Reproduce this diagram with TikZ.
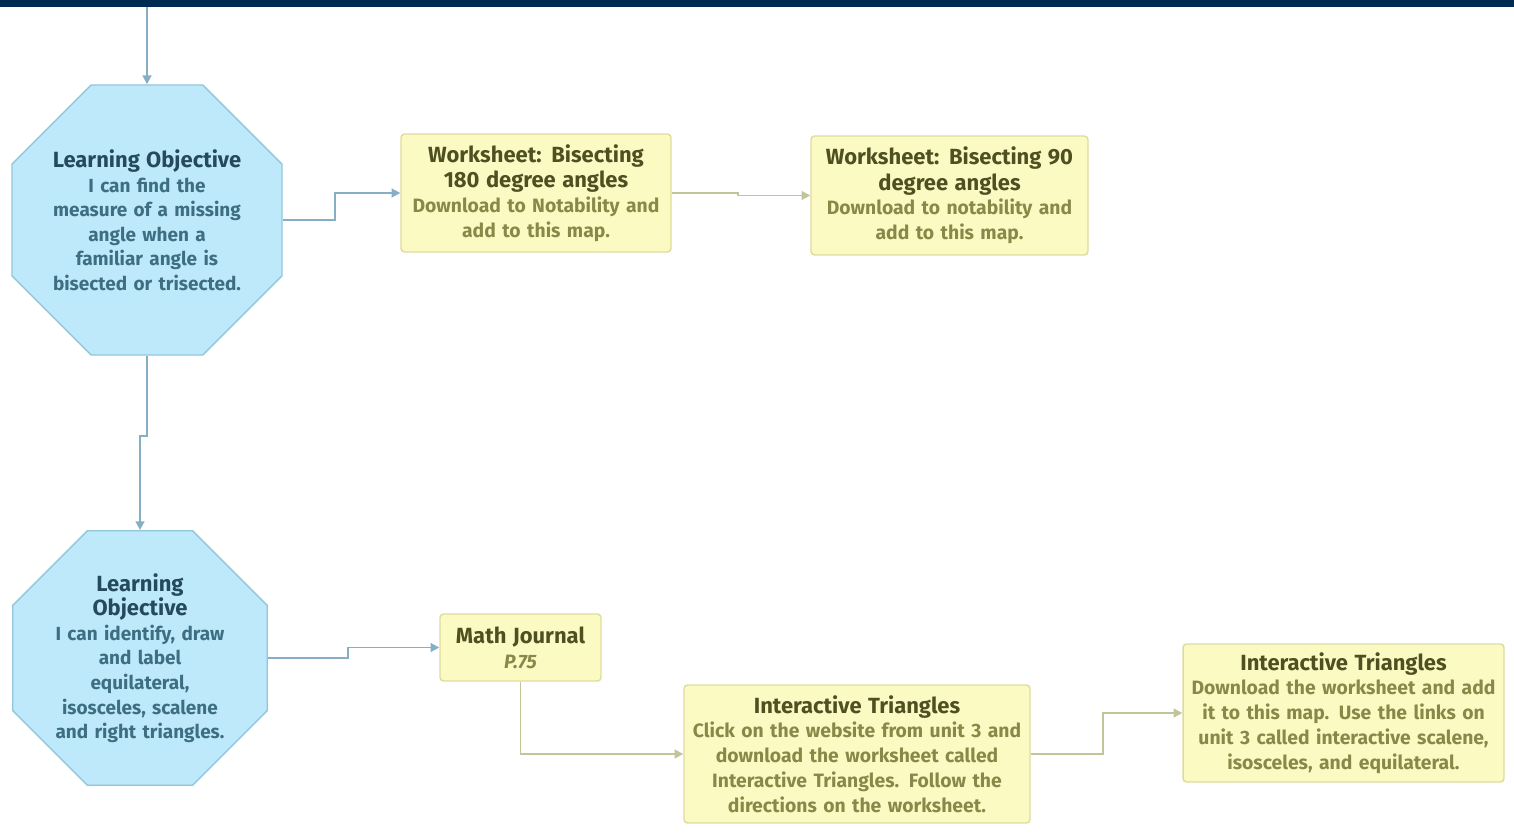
\documentclass[tikz,border=0pt]{standalone}
\usepackage{fontspec}
\setmainfont{Fira Sans}
\usetikzlibrary{arrows.meta,shapes.geometric,calc,positioning}
\definecolor{navybar}{HTML}{002A52}
\definecolor{skyfill}{HTML}{BDE9FA}
\definecolor{skyedge}{HTML}{92C6DA}
\definecolor{skyline}{HTML}{86AFC6}
\definecolor{skytitle}{HTML}{254A5C}
\definecolor{skytext}{HTML}{3E6E82}
\definecolor{lemonfill}{HTML}{FCFAC3}
\definecolor{lemonedge}{HTML}{DEDC9C}
\definecolor{oliveline}{HTML}{C4C49A}
\definecolor{olivetitle}{HTML}{4E5022}
\definecolor{olivetext}{HTML}{888848}
\def\skyT{\fontsize{12.5}{14}\selectfont\color{skytitle}}
\def\skyB{\fontsize{10.8}{14}\selectfont\color{skytext}}
\def\oliT{\fontsize{12.5}{14.5}\selectfont\color{olivetitle}}
\def\oliB{\fontsize{11}{14}\selectfont\color{olivetext}}
\tikzstyle{octa} = [regular polygon, regular polygon sides=8, fill=skyfill, draw=skyedge, line width=0.8pt, inner sep=0pt, align=center, font=\bfseries\fontsize{10.8}{13.8}\selectfont]
\tikzstyle{sheet} = [rectangle, rounded corners=2pt, fill=lemonfill, draw=lemonedge, line width=0.8pt, inner sep=0pt, align=center, font=\bfseries\fontsize{11}{14.2}\selectfont]
\tikzstyle{skyarrow} = [skyline, line width=1.1pt, -{Triangle[length=5pt,width=5pt]}]
\tikzstyle{olivearrow} = [oliveline, line width=1.1pt, -{Triangle[length=5pt,width=5pt]}]
\begin{document}
\begin{tikzpicture}[x=0.02cm,y=-0.02cm]
\useasboundingbox (0,0) rectangle (1514,832);
\fill[navybar] (0,0) rectangle (1514,7);
\coordinate (bar) at (0,7);
% learning objectives
\node[octa, minimum size=5.5cm, text width=3.82cm] (lo1) at (147,220) {\skyT Learning Objective\\ \skyB I can find the\\ measure of a missing\\ angle when a\\ familiar angle is\\ bisected or trisected.};
\node[octa, minimum size=5.2cm, text width=3.6cm] (lo2) at (140,658) {\skyT Learning\\ Objective\\ \skyB I can identify, draw\\ and label\\ equilateral,\\ isosceles, scalene\\ and right triangles.};
\coordinate (top) at (lo1.north |- bar);
% worksheets
\node[sheet, minimum width=5.4cm, minimum height=2.36cm, text width=5.2cm] (ws1) at (536,193) {\oliT Worksheet: Bisecting\\ 180 degree angles\\ \oliB Download to Notability and\\ add to this map.};
\node[sheet, minimum width=5.54cm, minimum height=2.38cm, text width=5.34cm] (ws2) at (949.5,195.5) {\oliT Worksheet: Bisecting 90\\ degree angles\\ \oliB Download to notability and\\ add to this map.};
\node[sheet, minimum width=3.22cm, minimum height=1.34cm, text width=3.1cm] (mj) at (520.5,647.5) {\oliT Math Journal\\ \oliB\itshape P.75};
\node[sheet, minimum width=6.92cm, minimum height=2.76cm, text width=6.8cm] (it1) at (857,754) {\oliT Interactive Triangles\\ \oliB Click on the website from unit 3 and\\ download the worksheet called\\ Interactive Triangles. Follow the\\ directions on the worksheet.};
\node[sheet, minimum width=6.42cm, minimum height=2.76cm, text width=6.3cm] (it2) at (1343.5,713) {\oliT Interactive Triangles\\ \oliB Download the worksheet and add\\ it to this map. Use the links on\\ unit 3 called interactive scalene,\\ isosceles, and equilateral.};
% connectors
\draw[skyarrow] (top) -- (lo1.north);
\draw[skyarrow] (lo1.south) -- ++(0,80) -| (lo2.north);
\draw[skyarrow] (lo1.east) -- ++(52,0) |- (ws1.west);
\draw[olivearrow] (ws1.east) -- ++(66,0) |- (ws2.west);
\draw[skyarrow] (lo2.east) -- ++(80,0) |- (mj.west);
\draw[olivearrow] (mj.south) |- (it1.west);
\draw[olivearrow] (it1.east) -- ++(72,0) |- (it2.west);
\end{tikzpicture}
\end{document}
